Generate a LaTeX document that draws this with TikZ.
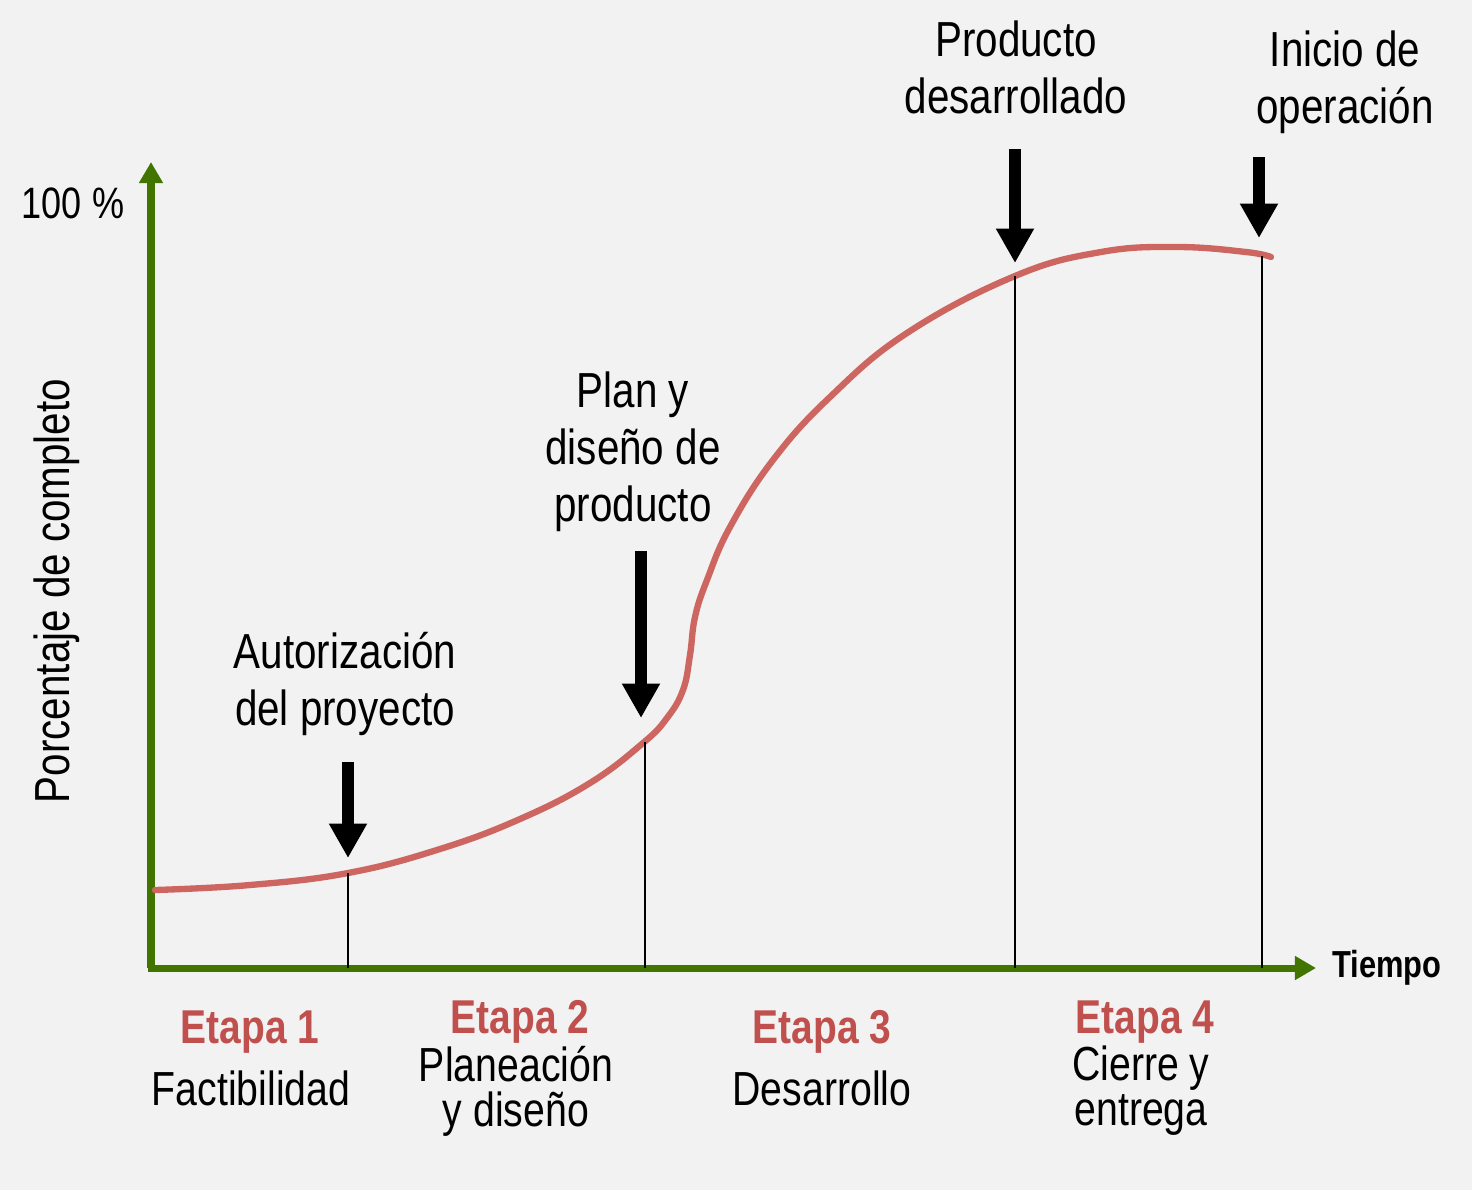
\documentclass[tikz,border=0pt]{standalone}
\usepackage{fontspec}
\setmainfont{Liberation Sans}[FakeStretch=0.82]
\usetikzlibrary{arrows.meta}
\definecolor{axisgreen}{RGB}{66,117,0}
\definecolor{curvered}{RGB}{205,102,96}
\definecolor{etapared}{RGB}{192,80,77}
\definecolor{bggray}{RGB}{242,242,242}
\begin{document}
\begin{tikzpicture}[x=0.01cm,y=-0.01cm,
  lbl/.style={align=center,inner sep=0pt,font=\fontsize{14}{16.2}\selectfont},
  stage/.style={align=center,inner sep=0pt,font=\fontsize{13.6}{12.8}\selectfont},
  etapa/.style={inner sep=0pt,text=etapared,font=\fontsize{13.5}{13.5}\selectfont\bfseries},
  axis/.style={axisgreen,line width=2pt,-{Triangle[width=6.5pt,length=6pt]}},
  milestone/.style={line width=3.4pt,-{Triangle[width=10.2pt,length=9.8pt]}},
  mark line/.style={black,line width=0.7pt}]
  \fill[bggray] (0,0) rectangle (1472,1190);
  \useasboundingbox (0,0) rectangle (1472,1190);
  % axes
  \coordinate (o) at (151,968);
  \coordinate (ytop) at (151,162);
  \coordinate (xend) at (1316,968);
  \draw [axis] (148,968) -- (xend);
  \draw [axis] (o) -- (ytop);
  \node [lbl,font=\fontsize{12.5}{12.5}\selectfont] (cien) at (73,203) {100 \%};
  \node [lbl,rotate=90] (ylab) at (57,591) {Porcentaje de completo};
  \node [inner sep=0pt,font=\fontsize{10.7}{10.7}\selectfont\bfseries] (tiempo) at (1387,968) {Tiempo};
  % curve
  \draw [curvered,line width=1.8pt,line cap=round] plot[smooth,tension=0.7] coordinates {
    (155,890) (250,885) (348,873) (440,849) (520,819) (590,783) (643,743)
    (667,718) (683,690) (690,655) (695,617) (707,580) (730,527) (773,460)
    (830,397) (907,333) (1015,276) (1101,252) (1177,247) (1246,252) (1271,257)};
  % stage limits
  \coordinate (c1) at (348,873);
  \coordinate (c2) at (645,742);
  \coordinate (c3) at (1015,276);
  \coordinate (c4) at (1262,256);
  \coordinate (b1) at (348,968);
  \coordinate (b2) at (645,968);
  \coordinate (b3) at (1015,968);
  \coordinate (b4) at (1262,968);
  \draw [mark line] (c1) -- (b1);
  \draw [mark line] (c2) -- (b2);
  \draw [mark line] (c3) -- (b3);
  \draw [mark line] (c4) -- (b4);
  % milestones
  \node [lbl] (aut) at (345,684) {Autorización\\del proyecto};
  \node [lbl] (plan) at (633,452) {Plan y\\diseño de\\producto};
  \node [lbl] (prod) at (1016,67) {Producto\\desarrollado};
  \node [lbl] (ini) at (1345,82) {Inicio de\\operación};
  \coordinate (a1) at (348,762);
  \coordinate (t1) at (348,858);
  \coordinate (a2) at (641,551);
  \coordinate (t2) at (641,718);
  \coordinate (a3) at (1015,149);
  \coordinate (t3) at (1015,263);
  \coordinate (a4) at (1259,157);
  \coordinate (t4) at (1259,238);
  \draw [milestone] (a1) -- (t1);
  \draw [milestone] (a2) -- (t2);
  \draw [milestone] (a3) -- (t3);
  \draw [milestone] (a4) -- (t4);
  % stages
  \node [etapa] (e1) at (250,1032) {Etapa 1};
  \node [stage] (s1) at (251,1088) {Factibilidad};
  \node [etapa] (e2) at (520,1022) {Etapa 2};
  \node [stage] (s2) at (516,1091) {Planeación\\y diseño};
  \node [etapa] (e3) at (822,1032) {Etapa 3};
  \node [stage] (s3) at (822,1088) {Desarrollo};
  \node [etapa] (e4) at (1145,1022) {Etapa 4};
  \node [stage] (s4) at (1141,1091) {Cierre y\\entrega};
\end{tikzpicture}
\end{document}
